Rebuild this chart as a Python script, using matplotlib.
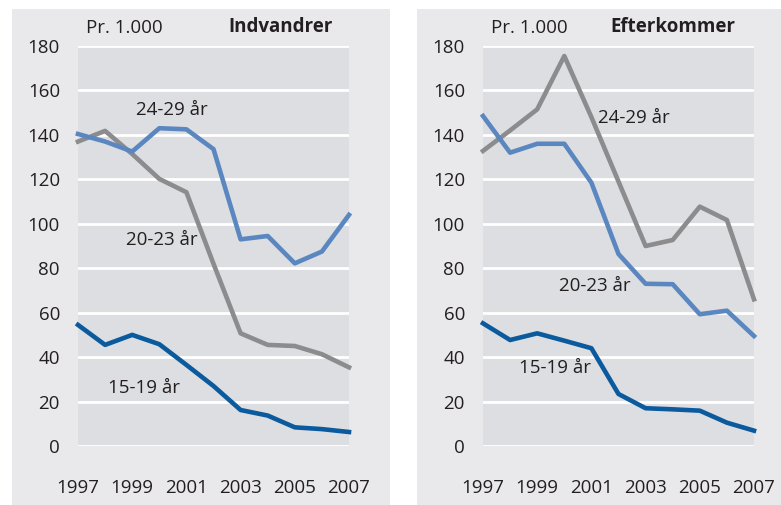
import matplotlib
matplotlib.use("Agg")
import matplotlib.pyplot as plt
from matplotlib.patches import Rectangle

plt.rcParams["font.family"] = ["Open Sans", "DejaVu Sans"]

years = list(range(1997, 2008))

# Indvandrer
ind_blaa = [140.4, 137, 132.5, 143, 142.5, 133.6, 93, 94.5, 82.2, 87.5, 104]
ind_graa = [137, 141.8, 131.4, 120.2, 114.2, 82, 50.7, 45.5, 45, 41.3, 35.4]
ind_moerk = [54.5, 45.5, 50, 45.8, 36.5, 27, 16.2, 13.7, 8.4, 7.6, 6.3]

# Efterkommer
eft_graa = [132.8, 142, 151.5, 175.5, 148, 119, 90, 92.7, 107.7, 101.7, 66]
eft_blaa = [148.5, 132, 136, 136, 118.5, 86.4, 73, 72.8, 59.3, 60.9, 49.5]
eft_moerk = [55.2, 47.7, 50.7, 47.4, 44, 23.4, 17, 16.5, 15.9, 10.5, 6.9]

yticks = [0, 20, 40, 60, 80, 100, 120, 140, 160, 180]
xticks = [1997, 1999, 2001, 2003, 2005, 2007]

panel_bg = "#e9e9eb"
plot_bg = "#dddee1"
c_blaa = "#5b87c0"
c_graa = "#8c8c8e"
c_moerk = "#0b5a9e"
tc = "#231f20"

fig = plt.figure(figsize=(7.81, 5.05), dpi=100)
fig.patches.append(Rectangle((12/781, 0), 378/781, 496/505, transform=fig.transFigure,
                             facecolor=panel_bg, edgecolor="none", zorder=-10))
fig.patches.append(Rectangle((417/781, 0), 364/781, 496/505, transform=fig.transFigure,
                             facecolor=panel_bg, edgecolor="none", zorder=-10))

ax1 = fig.add_axes([78/781, 59/505, 271/781, 400/505])
ax2 = fig.add_axes([483/781, 59/505, 271/781, 400/505])

fs = 13.5


def style(ax):
    ax.set_facecolor(plot_bg)
    ax.set_xlim(1997, 2007)
    ax.set_ylim(0, 180)
    ax.set_yticks(yticks)
    ax.set_xticks(xticks)
    for s in ax.spines.values():
        s.set_visible(False)
    ax.grid(axis="y", color="white", linewidth=2)
    ax.set_axisbelow(True)
    ax.tick_params(length=0, labelsize=fs, colors=tc)
    ax.tick_params(axis="y", pad=13)
    ax.tick_params(axis="x", pad=24)
    for lbl in ax.get_yticklabels() + ax.get_xticklabels():
        lbl.set_clip_on(False)


style(ax1)
style(ax2)

lw = 3.3
ax1.plot(years, ind_graa, color=c_graa, lw=lw, clip_on=False)
ax1.plot(years, ind_blaa, color=c_blaa, lw=lw, clip_on=False)
ax1.plot(years, ind_moerk, color=c_moerk, lw=lw, clip_on=False)

ax2.plot(years, eft_graa, color=c_graa, lw=lw, clip_on=False)
ax2.plot(years, eft_blaa, color=c_blaa, lw=lw, clip_on=False)
ax2.plot(years, eft_moerk, color=c_moerk, lw=lw, clip_on=False)

ax1.text(2000.47, 151.2, "24-29 år", fontsize=fs, color=tc, ha="center", va="center")
ax1.text(2000.1, 92.7, "20-23 år", fontsize=fs, color=tc, ha="center", va="center")
ax1.text(1999.44, 26.1, "15-19 år", fontsize=fs, color=tc, ha="center", va="center")

ax2.text(2002.57, 147.6, "24-29 år", fontsize=fs, color=tc, ha="center", va="center")
ax2.text(2001.13, 72, "20-23 år", fontsize=fs, color=tc, ha="center", va="center")
ax2.text(1999.66, 35.1, "15-19 år", fontsize=fs, color=tc, ha="center", va="center")

fig.text(86/781, 1 - 28/505, "Pr. 1.000", fontsize=fs, color=tc, ha="left", va="center")
fig.text(333/781, 1 - 27/505, "Indvandrer", fontsize=fs, color=tc, ha="right", va="center",
         fontweight="bold")
fig.text(491/781, 1 - 28/505, "Pr. 1.000", fontsize=fs, color=tc, ha="left", va="center")
fig.text(735/781, 1 - 27/505, "Efterkommer", fontsize=fs, color=tc, ha="right", va="center",
         fontweight="bold")

fig.savefig("out.png", dpi=100)
